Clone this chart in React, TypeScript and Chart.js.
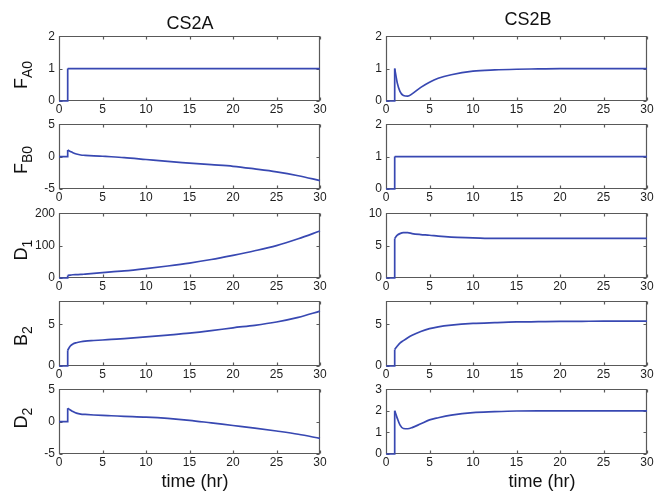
import React, { useEffect, useRef } from "react";
import { Chart, registerables } from "chart.js";

Chart.register(...registerables);

// Sample times (hr); t = 1 appears twice so the feed switch-on is a vertical step.
const time = [0, 1, 1, 1.3, 1.6, 2, 2.5, 3, 4, 5, 6, 7.5, 10, 12.5, 15, 17.5, 20, 22.5, 25, 27.5, 30];
const xTicks = [0, 5, 10, 15, 20, 25, 30];

// Case CS2A
const fA0_cs2a = [0, 0, 1, 1, 1, 1, 1, 1, 1, 1, 1, 1, 1, 1, 1, 1, 1, 1, 1, 1, 1];
const fB0_cs2a = [0, 0, 1.0, 0.8, 0.6, 0.4, 0.25, 0.2, 0.12, 0.05, -0.02, -0.15, -0.45, -0.75, -1.0, -1.25, -1.5, -1.9, -2.35, -2.95, -3.7];
const d1_cs2a = [0, 0, 8, 9, 10, 10.5, 11, 12, 14, 16.5, 19, 22, 29, 37, 46, 57, 70, 84, 100, 121, 145];
const b2_cs2a = [0, 0, 1.9, 2.4, 2.65, 2.8, 2.92, 3.0, 3.07, 3.13, 3.2, 3.3, 3.5, 3.72, 3.95, 4.25, 4.6, 4.9, 5.3, 5.85, 6.6];
const d2_cs2a = [0, 0, 2.05, 1.8, 1.55, 1.3, 1.15, 1.1, 1.02, 0.95, 0.9, 0.82, 0.7, 0.5, 0.2, -0.2, -0.6, -1.0, -1.45, -1.95, -2.6];

// Case CS2B
const fA0_cs2b = [0, 0, 1.0, 0.55, 0.3, 0.17, 0.15, 0.22, 0.42, 0.58, 0.7, 0.81, 0.92, 0.96, 0.98, 0.99, 1, 1, 1, 1, 1];
const fB0_cs2b = [0, 0, 1, 1, 1, 1, 1, 1, 1, 1, 1, 1, 1, 1, 1, 1, 1, 1, 1, 1, 1];
const d1_cs2b = [0, 0, 6.1, 6.6, 6.85, 7.0, 7.0, 6.85, 6.7, 6.6, 6.45, 6.3, 6.2, 6.1, 6.1, 6.1, 6.1, 6.1, 6.1, 6.1, 6.1];
const b2_cs2b = [0, 0, 2.0, 2.4, 2.75, 3.05, 3.4, 3.7, 4.15, 4.5, 4.72, 4.92, 5.12, 5.22, 5.3, 5.33, 5.36, 5.38, 5.4, 5.4, 5.4];
const d2_cs2b = [0, 0, 2.0, 1.65, 1.35, 1.18, 1.17, 1.22, 1.4, 1.58, 1.68, 1.8, 1.92, 1.96, 1.99, 2.0, 2.0, 2.0, 2.0, 2.0, 2.0];

// y tick labels
const ticks012 = [0, 1, 2];
const ticks0123 = [0, 1, 2, 3];
const ticksPm5 = [-5, 0, 5];
const ticks0to200 = [0, 100, 200];
const ticks0to10 = [0, 5, 10];
const ticks05 = [0, 5];

const LINE = "#3848b2";
const FRAME = "#595959";
const TEXT = "#1e1e1e";
const FONT = "'Liberation Sans', Arial, sans-serif";

// Plot-box geometry
const COL_LEFT = [59, 386];
const ROW_TOP = [35, 123, 212, 300, 388];
const BOX_W = 261;
const BOX_H = 66;
const AX_W = 50;
const AX_H = 18;
const PAD_T = 10;
const PAD_R = 14;

type PanelDef = {
  col: number;
  row: number;
  values: number[];
  yMin: number;
  yMax: number;
  yTicks: number[];
};

const panels: PanelDef[] = [
  { col: 0, row: 0, values: fA0_cs2a, yMin: 0, yMax: 2, yTicks: ticks012 },
  { col: 0, row: 1, values: fB0_cs2a, yMin: -5, yMax: 5, yTicks: ticksPm5 },
  { col: 0, row: 2, values: d1_cs2a, yMin: 0, yMax: 200, yTicks: ticks0to200 },
  { col: 0, row: 3, values: b2_cs2a, yMin: 0, yMax: 7.8, yTicks: ticks05 },
  { col: 0, row: 4, values: d2_cs2a, yMin: -5, yMax: 5, yTicks: ticksPm5 },
  { col: 1, row: 0, values: fA0_cs2b, yMin: 0, yMax: 2, yTicks: ticks012 },
  { col: 1, row: 1, values: fB0_cs2b, yMin: 0, yMax: 2, yTicks: ticks012 },
  { col: 1, row: 2, values: d1_cs2b, yMin: 0, yMax: 10, yTicks: ticks0to10 },
  { col: 1, row: 3, values: b2_cs2b, yMin: 0, yMax: 7.8, yTicks: ticks05 },
  { col: 1, row: 4, values: d2_cs2b, yMin: 0, yMax: 3, yTicks: ticks0123 },
];

// Boxed axes with short inward tick marks on all four sides
const framePlugin = {
  id: "frame",
  beforeDatasetsDraw(chart: any) {
    const { ctx, chartArea: a, scales } = chart;
    const L = Math.round(a.left) + 0.5;
    const R = Math.round(a.right) - 0.5;
    const T = Math.round(a.top) + 0.5;
    const B = Math.round(a.bottom) - 0.5;
    ctx.save();
    ctx.strokeStyle = FRAME;
    ctx.lineWidth = 1.2;
    ctx.beginPath();
    ctx.rect(L, T, R - L, B - T);
    const len = 3;
    for (const t of scales.x.ticks) {
      const px = Math.round(scales.x.getPixelForValue(t.value)) + 0.5;
      ctx.moveTo(px, B);
      ctx.lineTo(px, B - len);
      ctx.moveTo(px, T);
      ctx.lineTo(px, T + len);
    }
    for (const t of scales.y.ticks) {
      const py = Math.round(scales.y.getPixelForValue(t.value)) + 0.5;
      ctx.moveTo(L, py);
      ctx.lineTo(L + len, py);
      ctx.moveTo(R, py);
      ctx.lineTo(R - len, py);
    }
    ctx.stroke();
    ctx.restore();
  },
};

function Panel({ def }: { def: PanelDef }) {
  const ref = useRef<HTMLCanvasElement>(null);
  const width = AX_W + BOX_W + PAD_R;
  const height = PAD_T + BOX_H + AX_H;
  const left = COL_LEFT[def.col] - AX_W;
  const top = ROW_TOP[def.row] - PAD_T;

  useEffect(() => {
    const pts = time.map((t, i) => ({ x: t, y: def.values[i] }));
    const tickFont = { family: FONT, size: 12 };
    const chart = new Chart(ref.current as HTMLCanvasElement, {
      type: "line",
      data: {
        datasets: [
          {
            data: pts.slice(0, 3),
            borderColor: LINE,
            borderWidth: 1.7,
            pointRadius: 0,
            tension: 0,
            clip: false as any,
          },
          {
            data: pts.slice(2),
            borderColor: LINE,
            borderWidth: 1.7,
            pointRadius: 0,
            cubicInterpolationMode: "monotone",
            clip: false as any,
          },
        ],
      },
      options: {
        animation: false,
        responsive: false,
        events: [],
        layout: { padding: { left: 0, top: PAD_T, right: PAD_R, bottom: 0 }, autoPadding: false } as any,
        plugins: { legend: { display: false }, tooltip: { enabled: false } },
        scales: {
          x: {
            type: "linear",
            min: 0,
            max: 30,
            afterBuildTicks: (s: any) => {
              s.ticks = xTicks.map((v) => ({ value: v }));
            },
            afterFit: (s: any) => {
              s.height = AX_H;
            },
            grid: { display: false, drawTicks: false },
            border: { display: false },
            ticks: { font: tickFont, color: TEXT, padding: 1, maxRotation: 0, autoSkip: false },
          },
          y: {
            type: "linear",
            min: def.yMin,
            max: def.yMax,
            afterBuildTicks: (s: any) => {
              s.ticks = def.yTicks.map((v) => ({ value: v }));
            },
            afterFit: (s: any) => {
              s.width = AX_W;
            },
            grid: { display: false, drawTicks: false },
            border: { display: false },
            ticks: { font: tickFont, color: TEXT, padding: 4, autoSkip: false },
          },
        },
      },
      plugins: [framePlugin],
    });
    return () => chart.destroy();
  }, []);

  return (
    <canvas
      ref={ref}
      width={width}
      height={height}
      style={{ position: "absolute", left, top, width, height }}
    />
  );
}

const yLabels = [
  { main: "F", sub: "A0", y: 75 },
  { main: "F", sub: "B0", y: 160 },
  { main: "D", sub: "1", y: 250 },
  { main: "B", sub: "2", y: 336 },
  { main: "D", sub: "2", y: 418 },
];

const titles = [
  { text: "CS2A", x: 190, y: 23 },
  { text: "CS2B", x: 528, y: 19 },
];

const xLabels = [
  { text: "time (hr)", x: 195, y: 481 },
  { text: "time (hr)", x: 542, y: 481 },
];

const centered = (x: number, y: number, extra = ""): React.CSSProperties => ({
  position: "absolute",
  left: x,
  top: y,
  transform: `translate(-50%, -50%) ${extra}`,
  whiteSpace: "nowrap",
  lineHeight: 1,
  fontFamily: FONT,
  color: "#111",
});

export default function App() {
  return (
    <div
      style={{
        position: "absolute",
        left: 0,
        top: 0,
        width: 667,
        height: 496,
        background: "#fff",
        overflow: "hidden",
      }}
    >
      {panels.map((p, i) => (
        <Panel key={i} def={p} />
      ))}
      {titles.map((t, i) => (
        <div key={"t" + i} style={{ ...centered(t.x, t.y), fontSize: 18 }}>
          {t.text}
        </div>
      ))}
      {xLabels.map((t, i) => (
        <div key={"x" + i} style={{ ...centered(t.x, t.y), fontSize: 18 }}>
          {t.text}
        </div>
      ))}
      {yLabels.map((l, i) => (
        <div key={"y" + i} style={{ ...centered(23, l.y, "rotate(-90deg)"), fontSize: 18 }}>
          {l.main}
          <sub style={{ fontSize: 14, verticalAlign: "-0.3em" }}>{l.sub}</sub>
        </div>
      ))}
    </div>
  );
}
